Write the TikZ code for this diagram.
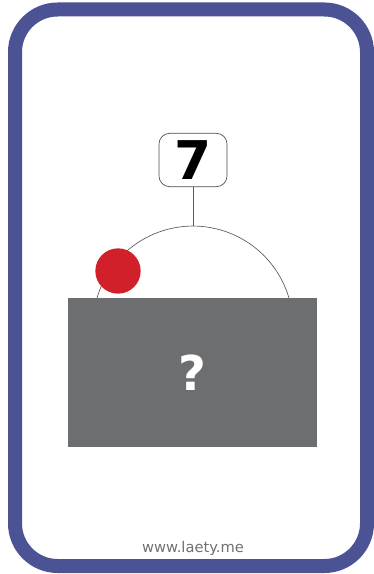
\documentclass[tikz,border=0pt]{standalone}
\usepackage{fontspec}
\setmainfont{DejaVu Sans}
\usetikzlibrary{positioning,calc}
\definecolor{cardblue}{HTML}{4B5394}
\definecolor{boxgray}{HTML}{6D6E70}
\definecolor{dotred}{HTML}{D1202A}
\definecolor{urlgray}{HTML}{707070}
\tikzset{card/.style={draw=cardblue,line width=10.5pt,rounded corners=32pt},numbox/.style={draw=black!70,line width=.5pt,rounded corners=8pt,fill=white,minimum width=51pt,minimum height=40pt,inner sep=0pt,font=\bfseries\fontsize{40}{40}\selectfont},hidebox/.style={fill=boxgray,minimum width=186.75pt,minimum height=111.75pt,inner sep=0pt,text=white,font=\bfseries\fontsize{36}{36}\selectfont},reddot/.style={circle,fill=dotred,minimum size=34pt,inner sep=0pt},thin line/.style={draw=black!65,line width=.5pt}}

\begin{document}
\begin{tikzpicture}[x=.75pt,y=-.75pt]
\useasboundingbox (0,0) rectangle (374,574);
\draw[card] (15,9.5) rectangle (367,566);
\node[numbox] (seven) at (193,160) {7};
\coordinate[below=49.5pt of seven.center] (top);
\draw[thin line] (seven.south) -- (top);
\draw[thin line] (97,298) arc[start angle=163.7,end angle=16.3,radius=75pt];
\node[reddot] (dot) at (118,271) {};
\node[hidebox] (hidden) at (192.5,372.5) {?};
\node[text=urlgray,font=\fontsize{11}{11}\selectfont] (url) at (193,548) {www.laety.me};
\end{tikzpicture}
\end{document}
